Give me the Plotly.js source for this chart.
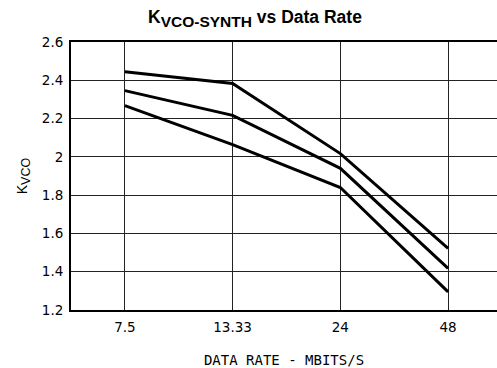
<!DOCTYPE html>
<html>
<head>
<meta charset="utf-8">
<script src="https://cdn.plot.ly/plotly-3.0.1.min.js"></script>
<style>html,body{margin:0;padding:0;background:#fff;}#chart{width:497px;height:368px;}</style>
</head>
<body>
<div id="chart"></div>
<script>
const dataRates = ['7.5', '13.33', '24', '48'];
const kvcoUpper = [2.445, 2.383, 2.017, 1.522];
const kvcoMiddle = [2.346, 2.217, 1.940, 1.417];
const kvcoLower = [2.268, 2.064, 1.840, 1.295];
const yTicks = [1.2, 1.4, 1.6, 1.8, 2, 2.2, 2.4, 2.6];

const lineStyle = {color: '#000', width: 3};
const traces = [kvcoUpper, kvcoMiddle, kvcoLower].map(v => ({
  x: dataRates, y: v, type: 'scatter', mode: 'lines', line: lineStyle,
  showlegend: false, hoverinfo: 'skip'
}));

const tickFont = {family: 'DejaVu Sans', size: 13.5, color: '#000'};
const layout = {
  width: 497, height: 368,
  margin: {l: 71, r: 0, t: 42, b: 58},
  paper_bgcolor: '#fff', plot_bgcolor: '#fff',
  title: {
    text: '<b>K<sub><span style="font-size:15.5px">VCO-SYNTH</span></sub> vs Data Rate</b>',
    font: {family: 'Liberation Sans, Arial, sans-serif', size: 17.5, color: '#000'},
    x: 0.513, xanchor: 'center', y: 0.953, yanchor: 'middle'
  },
  xaxis: {
    type: 'category', range: [-0.5, 3.454],
    showgrid: true, gridcolor: '#222', gridwidth: 1,
    showline: true, linecolor: '#000', linewidth: 2, mirror: true,
    ticks: '', tickfont: tickFont, zeroline: false, ticklabelstandoff: 4,
    title: {text: 'DATA RATE - MBITS/S', font: {family: 'DejaVu Sans Mono', size: 14, color: '#000'}, standoff: 22}
  },
  yaxis: {
    range: [1.2, 2.6], tickvals: yTicks,
    showgrid: true, gridcolor: '#222', gridwidth: 1,
    showline: true, linecolor: '#000', linewidth: 2,
    ticks: '', tickfont: tickFont, zeroline: false, ticklabelstandoff: 3,
    title: {text: 'K<sub><span style="font-size:12.5px">VCO</span></sub>', font: {family: 'Liberation Sans, Arial, sans-serif', size: 14, color: '#000'}, standoff: 11}
  }
};
Plotly.newPlot('chart', traces, layout, {staticPlot: true, displayModeBar: false});
</script>
</body>
</html>
